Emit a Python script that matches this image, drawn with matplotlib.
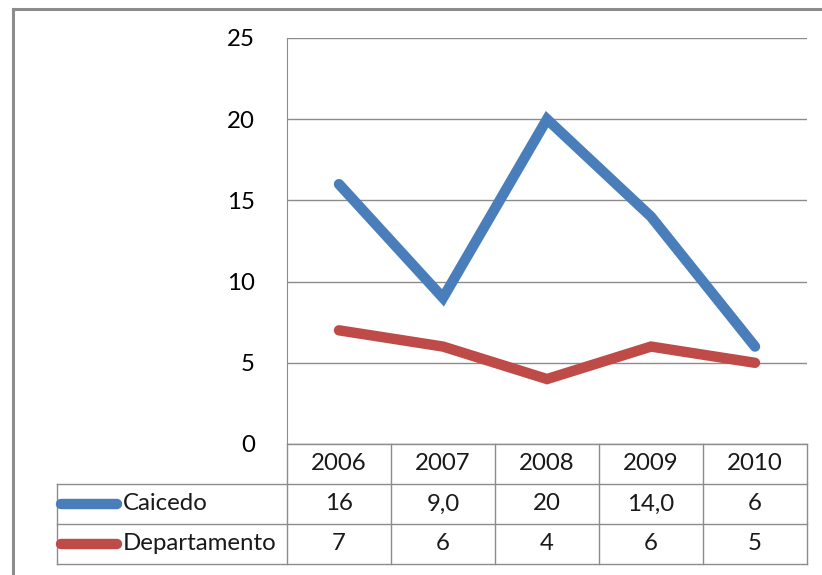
import matplotlib
matplotlib.use('Agg')
import matplotlib.pyplot as plt
from matplotlib.lines import Line2D

years = ['2006', '2007', '2008', '2009', '2010']
caicedo = [16, 9.0, 20, 14.0, 6]
departamento = [7, 6, 4, 6, 5]
caicedo_labels = ['16', '9,0', '20', '14,0', '6']
departamento_labels = ['7', '6', '4', '6', '5']
series = [('Caicedo', caicedo, caicedo_labels, '#4a7ebb'),
          ('Departamento', departamento, departamento_labels, '#be4b48')]

plt.rcParams['font.family'] = ['Lato', 'DejaVu Sans']
W, H = 822, 575
fig = plt.figure(figsize=(W / 100, H / 100), dpi=100)

def fx(px):
    return px / W

def fy(py):
    return 1 - py / H

grid_c = '#8c8c8c'
fs = 17.3

# outer frame (only left/top visible)
fig.add_artist(Line2D([fx(13), fx(13)], [fy(575), fy(9)], color='#8c8c8c', lw=2.2))
fig.add_artist(Line2D([fx(13), fx(822)], [fy(9), fy(9)], color='#8c8c8c', lw=2.2))

ax = fig.add_axes([fx(287), fy(444), fx(807) - fx(287), fy(38) - fy(444)])
x = range(len(years))
for name, vals, labs, col in series:
    ax.plot(x, vals, color=col, lw=7.5, solid_capstyle='round', solid_joinstyle='miter')
ax.set_xlim(-0.5, len(years) - 0.5)
ax.set_ylim(0, 25)
ax.set_yticks(range(0, 26, 5))
ax.yaxis.grid(True, color=grid_c, lw=1)
ax.set_axisbelow(True)
for s in ['top', 'right', 'bottom']:
    ax.spines[s].set_visible(False)
ax.spines['left'].set_color(grid_c)
ax.tick_params(axis='y', length=0, pad=23, labelsize=fs)
ax.tick_params(axis='x', length=0, labelbottom=False)

# data table below the plot
tab = fig.add_axes([fx(287), fy(564), fx(807) - fx(287), fy(444) - fy(564)])
tab.set_xlim(-0.5, len(years) - 0.5)
tab.set_ylim(3, 0)
tab.axis('off')
left = -0.5 - (287 - 57) / 104
kw = dict(color=grid_c, lw=1, clip_on=False)
tab.plot([-0.5, len(years) - 0.5], [0, 0], **kw)
for r in (1, 2, 3):
    tab.plot([left, len(years) - 0.5], [r, r], **kw)
for c in range(len(years) + 1):
    tab.plot([c - 0.5, c - 0.5], [0, 3], **kw)
tab.plot([left, left], [1, 3], **kw)
for i, yr in enumerate(years):
    tab.text(i, 0.5, yr, ha='center', va='center', fontsize=fs, color='#1a1a1a')
for r, (name, vals, labs, col) in enumerate(series, start=1):
    tab.plot([left + 0.04, left + 0.58], [r + 0.5, r + 0.5], color=col, lw=7.5,
             solid_capstyle='round', clip_on=False)
    tab.text(left + 0.63, r + 0.5, name, ha='left', va='center', fontsize=fs, color='#1a1a1a')
    for i, lab in enumerate(labs):
        tab.text(i, r + 0.5, lab, ha='center', va='center', fontsize=fs, color='#1a1a1a')

fig.savefig('out.png', dpi=100)
